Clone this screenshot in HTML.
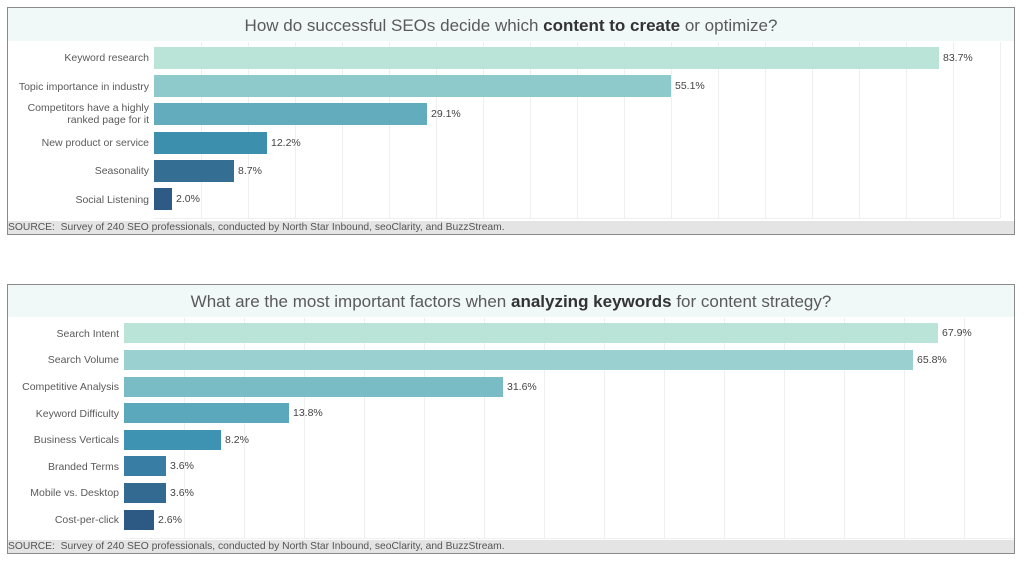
<!DOCTYPE html>
<html><head><meta charset="utf-8"><style>
body{margin:0;width:1024px;height:561px;background:#fff;position:relative;overflow:hidden;font-family:"Liberation Sans",sans-serif;}
.p{position:absolute;left:7px;width:1006px;border:1px solid #8a8a8a;background:#fff;}
.t{position:absolute;left:0;right:0;top:0;background:#f1f8f8;text-align:center;color:#5a5a5a;font-size:17px;}
.t b{color:#333;}
.s{position:absolute;left:0;right:0;bottom:0;height:13px;background:#e4e4e4;color:#555;font-size:10.3px;line-height:13px;white-space:nowrap;}
.g{position:absolute;width:1px;background:#efefef;}
.b{position:absolute;}
.l{position:absolute;text-align:right;color:#5a5a5a;font-size:10.5px;line-height:12px;}
.v{position:absolute;color:#444;font-size:10.5px;}
</style></head><body>
<div class="p" style="top:7px;height:226px;">
<div class="t" style="height:33px;line-height:36px;">How do successful SEOs decide which <b>content to create</b> or optimize?</div>
<div class="s">SOURCE:&nbsp; Survey of 240 SEO professionals, conducted by North Star Inbound, seoClarity, and BuzzStream.</div>
</div>
<div class="p" style="top:284px;height:268px;">
<div class="t" style="height:32px;line-height:34px;">What are the most important factors when <b>analyzing keywords</b> for content strategy?</div>
<div class="s">SOURCE:&nbsp; Survey of 240 SEO professionals, conducted by North Star Inbound, seoClarity, and BuzzStream.</div>
</div>

<div class="g" style="left:201px;top:42px;height:176px"></div><div class="g" style="left:248px;top:42px;height:176px"></div><div class="g" style="left:295px;top:42px;height:176px"></div><div class="g" style="left:342px;top:42px;height:176px"></div><div class="g" style="left:389px;top:42px;height:176px"></div><div class="g" style="left:436px;top:42px;height:176px"></div><div class="g" style="left:483px;top:42px;height:176px"></div><div class="g" style="left:530px;top:42px;height:176px"></div><div class="g" style="left:577px;top:42px;height:176px"></div><div class="g" style="left:624px;top:42px;height:176px"></div><div class="g" style="left:671px;top:42px;height:176px"></div><div class="g" style="left:718px;top:42px;height:176px"></div><div class="g" style="left:765px;top:42px;height:176px"></div><div class="g" style="left:812px;top:42px;height:176px"></div><div class="g" style="left:859px;top:42px;height:176px"></div><div class="g" style="left:906px;top:42px;height:176px"></div><div class="g" style="left:953px;top:42px;height:176px"></div><div class="g" style="left:1000px;top:42px;height:176px"></div>
<div class="g" style="left:154px;top:218px;width:846px;height:1px"></div>

<div class="b" style="left:154px;top:47px;width:785px;height:22px;background:#bbe4d9"></div>
<div class="b" style="left:154px;top:75px;width:517px;height:22px;background:#8ecacb"></div>
<div class="b" style="left:154px;top:103px;width:273px;height:22px;background:#62acbd"></div>
<div class="b" style="left:154px;top:132px;width:113px;height:22px;background:#3c8fad"></div>
<div class="b" style="left:154px;top:160px;width:80px;height:22px;background:#346f93"></div>
<div class="b" style="left:154px;top:188px;width:18px;height:22px;background:#2e5a86"></div>
<div class="v" style="left:943px;top:52px">83.7%</div>
<div class="v" style="left:675px;top:80px">55.1%</div>
<div class="v" style="left:431px;top:108px">29.1%</div>
<div class="v" style="left:271px;top:137px">12.2%</div>
<div class="v" style="left:238px;top:165px">8.7%</div>
<div class="v" style="left:176px;top:193px">2.0%</div>
<div class="l" style="left:0;width:149px;top:52px">Keyword research</div>
<div class="l" style="left:0;width:149px;top:81px">Topic importance in industry</div>
<div class="l" style="left:0;width:149px;top:102px">Competitors have a highly<br>ranked page for it</div>
<div class="l" style="left:0;width:149px;top:137px">New product or service</div>
<div class="l" style="left:0;width:149px;top:165px">Seasonality</div>
<div class="l" style="left:0;width:149px;top:194px">Social Listening</div>

<div class="g" style="left:184px;top:318px;height:220px"></div><div class="g" style="left:244px;top:318px;height:220px"></div><div class="g" style="left:304px;top:318px;height:220px"></div><div class="g" style="left:364px;top:318px;height:220px"></div><div class="g" style="left:424px;top:318px;height:220px"></div><div class="g" style="left:484px;top:318px;height:220px"></div><div class="g" style="left:544px;top:318px;height:220px"></div><div class="g" style="left:604px;top:318px;height:220px"></div><div class="g" style="left:664px;top:318px;height:220px"></div><div class="g" style="left:724px;top:318px;height:220px"></div><div class="g" style="left:784px;top:318px;height:220px"></div><div class="g" style="left:844px;top:318px;height:220px"></div><div class="g" style="left:904px;top:318px;height:220px"></div><div class="g" style="left:964px;top:318px;height:220px"></div>
<div class="g" style="left:124px;top:538px;width:890px;height:1px"></div>

<div class="b" style="left:124px;top:323px;width:814px;height:20px;background:#bbe4d9"></div>
<div class="b" style="left:124px;top:350px;width:789px;height:20px;background:#9ad1d0"></div>
<div class="b" style="left:124px;top:377px;width:379px;height:20px;background:#7abcc6"></div>
<div class="b" style="left:124px;top:403px;width:165px;height:20px;background:#5ba8bd"></div>
<div class="b" style="left:124px;top:430px;width:97px;height:20px;background:#3f93b2"></div>
<div class="b" style="left:124px;top:456px;width:42px;height:20px;background:#387ea4"></div>
<div class="b" style="left:124px;top:483px;width:42px;height:20px;background:#336a92"></div>
<div class="b" style="left:124px;top:510px;width:30px;height:20px;background:#2d5985"></div>
<div class="v" style="left:942px;top:327px">67.9%</div>
<div class="v" style="left:917px;top:354px">65.8%</div>
<div class="v" style="left:507px;top:381px">31.6%</div>
<div class="v" style="left:293px;top:407px">13.8%</div>
<div class="v" style="left:225px;top:434px">8.2%</div>
<div class="v" style="left:170px;top:460px">3.6%</div>
<div class="v" style="left:170px;top:487px">3.6%</div>
<div class="v" style="left:158px;top:514px">2.6%</div>
<div class="l" style="left:0;width:119px;top:328px">Search Intent</div>
<div class="l" style="left:0;width:119px;top:354px">Search Volume</div>
<div class="l" style="left:0;width:119px;top:381px">Competitive Analysis</div>
<div class="l" style="left:0;width:119px;top:408px">Keyword Difficulty</div>
<div class="l" style="left:0;width:119px;top:434px">Business Verticals</div>
<div class="l" style="left:0;width:119px;top:461px">Branded Terms</div>
<div class="l" style="left:0;width:119px;top:487px">Mobile vs. Desktop</div>
<div class="l" style="left:0;width:119px;top:514px">Cost-per-click</div>
</body></html>
